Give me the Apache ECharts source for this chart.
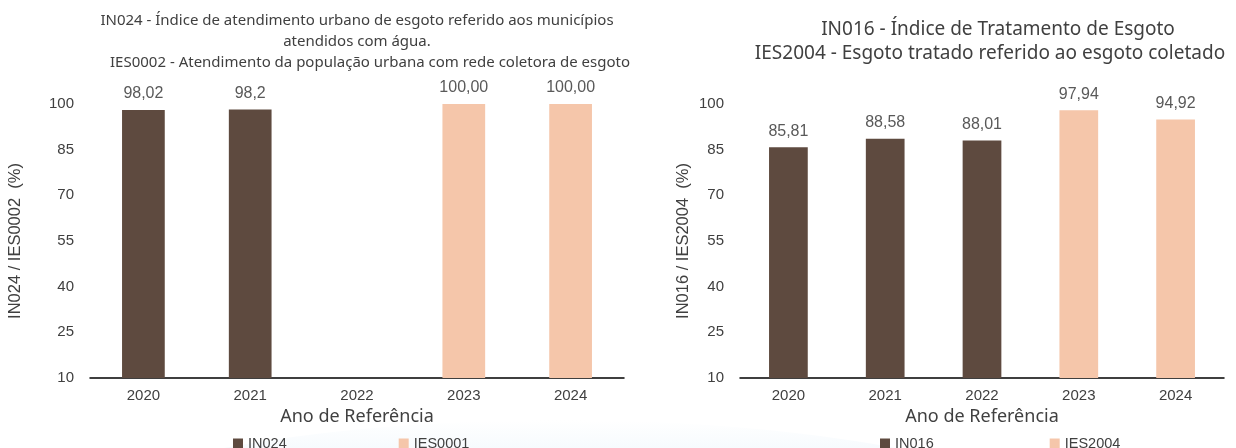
<!DOCTYPE html>
<html>
<head>
<meta charset="utf-8">
<script src="https://cdn.jsdelivr.net/npm/echarts@6/dist/echarts.min.js"></script>
<style>
  html, body { margin: 0; padding: 0; background: #fff; }
  #chart { width: 1236px; height: 448px; }
</style>
</head>
<body>
<div id="chart"></div>
<script>
// anos de referência
var anos = ['2020', '2021', '2022', '2023', '2024'];
var eixoY = { min: 10, max: 100, interval: 15 };

// grafico esquerdo - atendimento urbano de esgoto
var in024 = [98.02, 98.2, null, null, null];
var ies0001 = [null, null, null, 100, 100];
var rotulosEsq = ['98,02', '98,2', '', '100,00', '100,00'];

// grafico direito - tratamento de esgoto
var in016 = [85.81, 88.58, 88.01, null, null];
var ies2004 = [null, null, null, 97.94, 94.92];
var rotulosDir = ['85,81', '88,58', '88,01', '97,94', '94,92'];

var corEscura = '#5E4A3F';
var corClara = '#F5C6AA';
var corTexto = '#404040';
var fonte = '"Liberation Sans", Arial, sans-serif';
var fonteTitulo = '"Noto Sans", sans-serif';

var dom = document.getElementById('chart');
var myChart = echarts.init(dom);

function eixoX(idx) {
    return {
        type: 'category',
        gridIndex: idx,
        data: anos,
        axisLine: { lineStyle: { color: '#000', width: 1.5 } },
        axisTick: { show: false },
        axisLabel: { color: corTexto, fontSize: 15, fontFamily: fonte, margin: 10 },
        name: 'Ano de Referência',
        nameLocation: 'middle',
        nameGap: 28,
        nameTextStyle: { color: corTexto, fontSize: 18, fontFamily: fonteTitulo }
    };
}

function eixoValor(idx, nome, gap) {
    return {
        type: 'value',
        gridIndex: idx,
        min: eixoY.min,
        max: eixoY.max,
        interval: eixoY.interval,
        axisLine: { show: false },
        axisTick: { show: false },
        splitLine: { show: false },
        axisLabel: { color: corTexto, fontSize: 15, fontFamily: fonte, margin: 16 },
        name: nome,
        nameLocation: 'middle',
        nameGap: gap,
        nameTextStyle: { color: corTexto, fontSize: 16.5, fontFamily: fonte }
    };
}

function serie(nome, dados, cor, idx, rotulos) {
    return {
        name: nome,
        type: 'bar',
        xAxisIndex: idx,
        yAxisIndex: idx,
        stack: 'g' + idx,
        barWidth: '40%',
        data: dados,
        itemStyle: { color: cor },
        label: {
            show: true,
            position: 'top',
            distance: 8,
            color: '#595959',
            fontSize: 16,
            fontFamily: fonte,
            formatter: function (p) { return rotulos[p.dataIndex]; }
        }
    };
}

var option = {
    backgroundColor: '#fff',
    animation: false,
    graphic: [{
        type: 'ellipse',
        silent: true,
        z: -10,
        shape: { cx: 560, cy: 560, rx: 560, ry: 140 },
        style: {
            fill: new echarts.graphic.LinearGradient(0, 0, 0, 1, [
                { offset: 0, color: '#ffffff' },
                { offset: 0.25, color: '#eaf4fb' },
                { offset: 1, color: '#dcecf8' }
            ])
        }
    }],
    title: [
        { text: 'IN024 - Índice de atendimento urbano de esgoto referido aos municípios', left: 352, top: 8, textAlign: 'center',
          textStyle: { fontSize: 15, fontWeight: 'normal', color: corTexto, fontFamily: fonteTitulo } },
        { text: 'atendidos com água.', left: 352, top: 29, textAlign: 'center',
          textStyle: { fontSize: 15, fontWeight: 'normal', color: corTexto, fontFamily: fonteTitulo } },
        { text: 'IES0002 - Atendimento da população urbana com rede coletora de esgoto', left: 365, top: 50, textAlign: 'center',
          textStyle: { fontSize: 15, fontWeight: 'normal', color: corTexto, fontFamily: fonteTitulo } },
        { text: 'IN016 - Índice de Tratamento de Esgoto', left: 993, top: 15, textAlign: 'center',
          textStyle: { fontSize: 19, fontWeight: 'normal', color: corTexto, fontFamily: fonteTitulo } },
        { text: 'IES2004 - Esgoto tratado referido ao esgoto coletado', left: 985, top: 39, textAlign: 'center',
          textStyle: { fontSize: 19, fontWeight: 'normal', color: corTexto, fontFamily: fonteTitulo } }
    ],
    legend: [
        { data: ['IN024', 'IES0001'], left: 228, top: 431, icon: 'rect', itemWidth: 10, itemHeight: 10, itemGap: 112,
          textStyle: { color: corTexto, fontSize: 14.5, fontFamily: fonte } },
        { data: ['IN016', 'IES2004'], left: 875, top: 431, icon: 'rect', itemWidth: 10, itemHeight: 10, itemGap: 116,
          textStyle: { color: corTexto, fontSize: 14.5, fontFamily: fonte } }
    ],
    grid: [
        { left: 90, right: 612, top: 104, bottom: 70 },
        { left: 740, right: 12, top: 104, bottom: 70 }
    ],
    xAxis: [eixoX(0), eixoX(1)],
    yAxis: [
        eixoValor(0, 'IN024 / IES0002  (%)', 66),
        eixoValor(1, 'IN016 / IES2004  (%)', 48)
    ],
    series: [
        serie('IN024', in024, corEscura, 0, rotulosEsq),
        serie('IES0001', ies0001, corClara, 0, rotulosEsq),
        serie('IN016', in016, corEscura, 1, rotulosDir),
        serie('IES2004', ies2004, corClara, 1, rotulosDir)
    ]
};

if (option && typeof option === "object") {
    myChart.setOption(option, true);
}
</script>
</body>
</html>
